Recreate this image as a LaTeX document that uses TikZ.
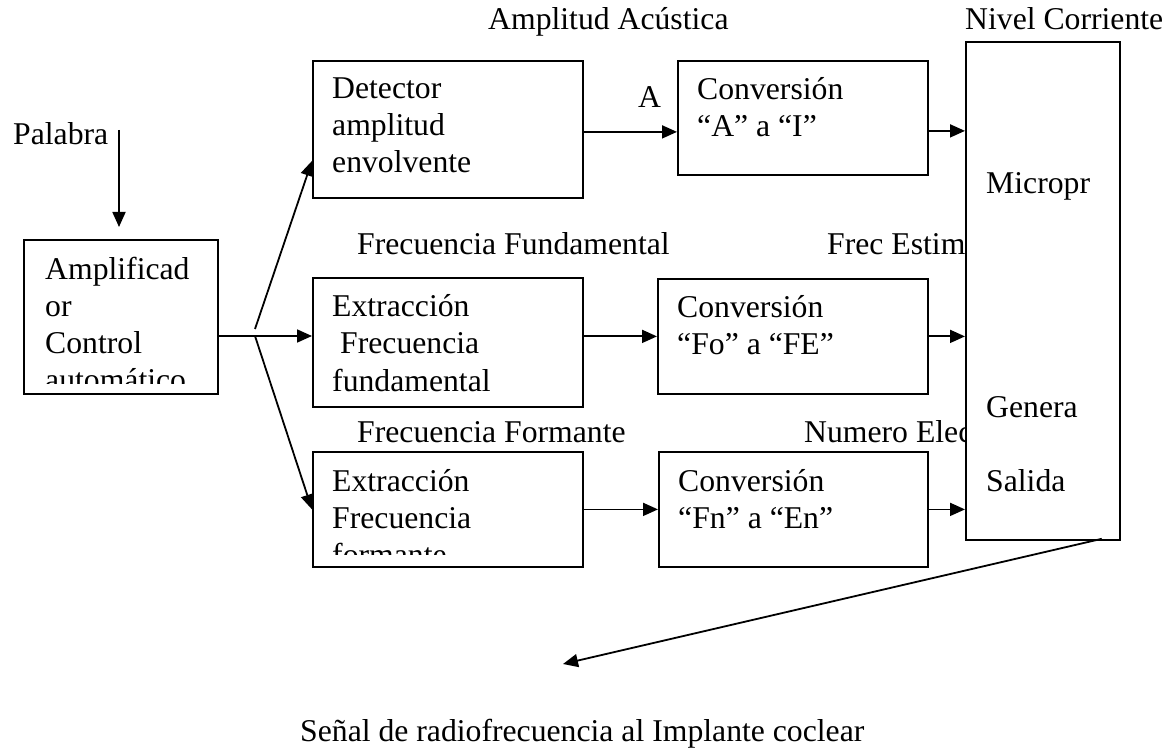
\documentclass[tikz,border=0pt]{standalone}
\usepackage{fontspec}
\setmainfont{Liberation Serif}
\usetikzlibrary{arrows.meta,calc}

% one unit = one point; y grows downwards
\tikzset{
  every node/.style={font=\fontsize{31.7pt}{37pt}\selectfont},
  box/.style={draw, line width=1.8pt, inner sep=0pt, anchor=north west, fill=white},
  lbl/.style={anchor=base west, inner sep=0pt},
  wire/.style={line width=1.8pt},
  arr/.style={line width=1.8pt, -{Triangle[length=15pt,width=13pt]}},
}
\newcommand{\boxlines}[1]{\parbox[t]{400pt}{#1}}

\begin{document}
\begin{tikzpicture}[x=1pt,y=-1pt]
  \fill[white] (0,0) rectangle (1173,751);
  \useasboundingbox (0,0) rectangle (1173,751);

  % input stage
  \node[lbl] (palabra) at (13,145) {Palabra};
  \node[box, minimum width=194pt, minimum height=154pt] (amp) at (23,239) {};
  \begin{scope}
    \clip (amp.north west) rectangle ($(amp.south east)+(0,-11)$);
    \node[lbl] (amptxt) at ($(amp.north west)+(22,41)$)
      {\boxlines{Amplificad\\or\\Control\\automático}};
  \end{scope}

  % analysis blocks
  \node[box, minimum width=270pt, minimum height=137pt] (det) at (312,60) {};
  \node[lbl] (dettxt) at ($(det.north west)+(20,39)$)
    {\boxlines{Detector\\amplitud\\envolvente}};

  \node[box, minimum width=270pt, minimum height=129pt] (ext1) at (312,277) {};
  \node[lbl] (ext1txt) at ($(ext1.north west)+(20,40)$)
    {\boxlines{Extracción\\\hspace*{8pt}Frecuencia\\fundamental}};

  \node[box, minimum width=270pt, minimum height=115pt] (ext2) at (312,451) {};
  \begin{scope}
    \clip (ext2.north west) rectangle ($(ext2.south east)+(0,-13)$);
    \node[lbl] (ext2txt) at ($(ext2.north west)+(20,40)$)
      {\boxlines{Extracción\\Frecuencia\\formante}};
  \end{scope}

  % conversion blocks
  \node[box, minimum width=250pt, minimum height=114pt] (conv1) at (677,60) {};
  \node[lbl] (conv1txt) at ($(conv1.north west)+(20,40)$)
    {\boxlines{Conversión\\“A” a “I”}};

  \node[box, minimum width=270pt, minimum height=115pt] (conv2) at (657,278) {};
  \node[lbl] (conv2txt) at ($(conv2.north west)+(20,40)$)
    {\boxlines{Conversión\\“Fo” a “FE”}};

  \node[box, minimum width=269pt, minimum height=115pt] (conv3) at (658,451) {};
  \node[lbl] (conv3txt) at ($(conv3.north west)+(20,40)$)
    {\boxlines{Conversión\\“Fn” a “En”}};

  % signal labels
  \node[lbl] (lamp) at (488,30) {Amplitud Acústica};
  \node[lbl] (la) at (638,108) {A};
  \node[lbl] (lfund) at (357,255) {Frecuencia Fundamental};
  \node[lbl] (lform) at (357,442) {Frecuencia Formante};
  \node[lbl] (lfe) at (827,255) {Frec Estim};
  \node[lbl] (lne) at (804,442) {Numero Elec};

  % microprocessor block (covers the ends of the labels on its left)
  \node[box, minimum width=154pt, minimum height=498pt] (mp) at (965,41) {};
  \node[lbl] (lniv) at (965,30) {Nivel Corriente};
  \node[lbl] (mp1) at (986,194) {Micropr};
  \node[lbl] (mp2) at (986,417) {Genera};
  \node[lbl] (mp3) at (986,491) {Salida};

  % connectors
  \coordinate (palin) at (119,130);
  \coordinate (palout) at (119,227);
  \draw[arr] (palin) -- (palout);

  \coordinate (fork) at (255,336);
  \coordinate (forkup) at (255,329);
  \draw[wire] (amp.east |- fork) -- (fork);
  \draw[arr] (fork) -- (fork -| ext1.west);
  \draw[arr] (forkup) -- ([yshift=-31.5pt]det.west);
  \draw[arr] (fork) -- (ext2.west);

  \draw[arr] ([yshift=-2.5pt]det.east) coordinate (a1) -- (a1 -| conv1.west);
  \draw[arr] ([yshift=-13pt]conv1.east) coordinate (a2) -- (a2 -| mp.west);
  \draw[arr] (ext1.east |- conv2.east) -- (conv2.west);
  \draw[arr] (conv2.east) -- (conv2.east -| mp.west);
  \draw[arr] (ext2.east) -- (conv3.west);
  \draw[arr] (conv3.east) -- (conv3.east -| mp.west);

  \coordinate (out) at (563,664);
  \draw[arr] ([xshift=-19pt,yshift=2pt]mp.south east) -- (out);
  \node[lbl] (lout) at (300,741) {Señal de radiofrecuencia al Implante coclear};
\end{tikzpicture}
\end{document}
